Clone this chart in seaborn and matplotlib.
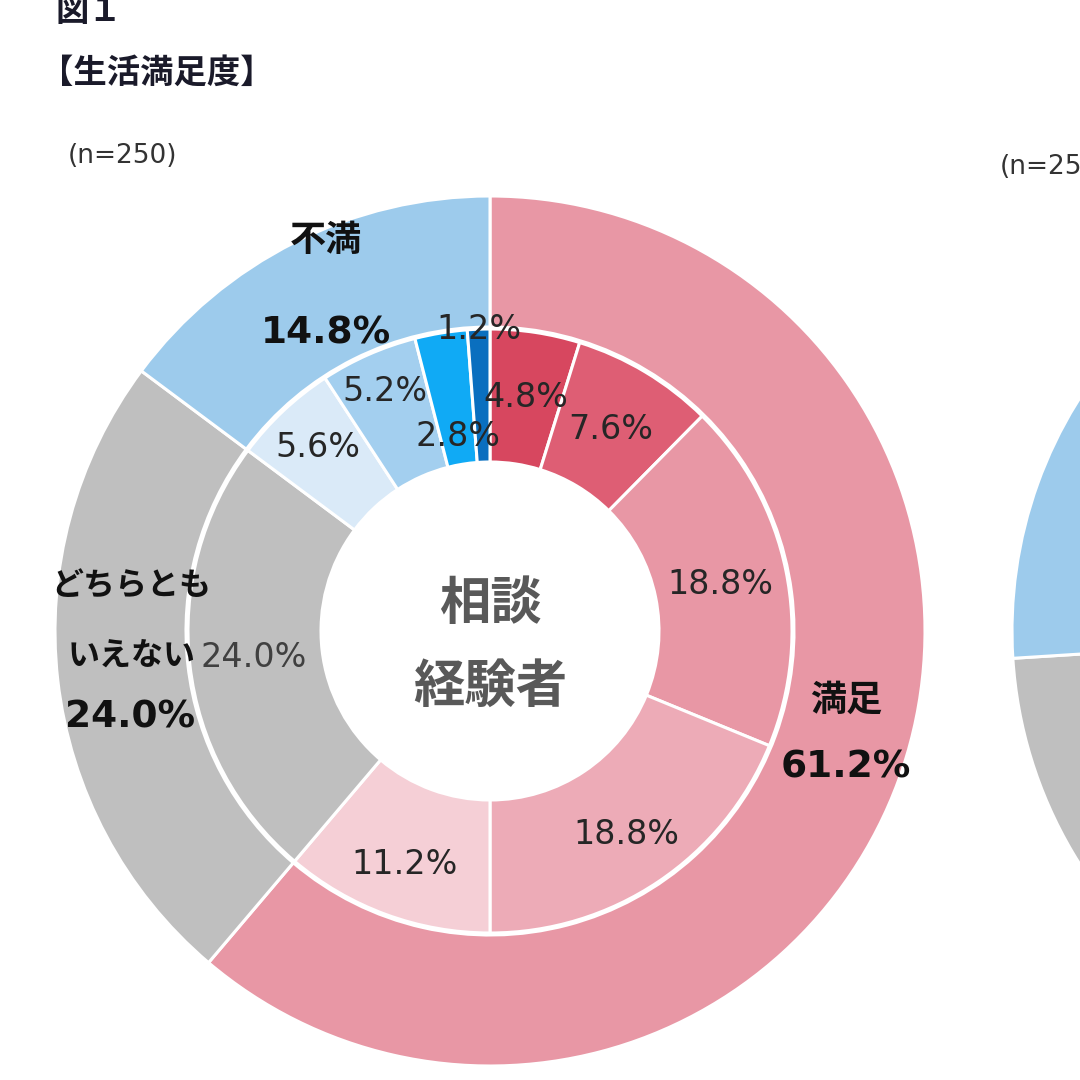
import numpy as np
import matplotlib
matplotlib.use("Agg")
import matplotlib.pyplot as plt
import seaborn as sns

# ---------------- data ----------------
outer_labels = ["満足", "どちらともいえない", "不満"]
outer_values = [61.2, 24.0, 14.8]

inner_values = [4.8, 7.6, 18.8, 18.8, 11.2, 24.0, 5.6, 5.2, 2.8, 1.2]

# second (cut-off) chart on the right edge
outer_values_2 = [44.0, 30.0, 26.0]

title_fig = "図１"
title_main = "【生活満足度】"
n_label = "(n=250)"
center_label = ["相談", "経験者"]

# ---------------- style ----------------
sns.set_theme(style="white")
plt.rcParams["font.family"] = ["Noto Sans CJK JP", "DejaVu Sans"]

outer_colors = ["#E897A5", "#BFBFBF", "#9DCBEC"]
inner_colors = ["#D7475F", "#DE5E74", "#E897A5", "#EDABB7", "#F5CFD6",
                "#BFBFBF", "#DAEAF8", "#A3CFEF", "#10AAF5", "#0A6FBF"]

W = H = 1080
fig = plt.figure(figsize=(10.8, 10.8), dpi=100)
ax = fig.add_axes([0, 0, 1, 1])


def P(x, y):
    return (x, H - y)


cx, cy = P(490, 631)
R_out, R_mid, R_in = 435, 304, 169
wp = dict(edgecolor="white", linewidth=2.2)

w_out, _ = ax.pie(outer_values, colors=outer_colors, radius=R_out, center=(cx, cy),
                  startangle=90, counterclock=False,
                  wedgeprops=dict(width=R_out - R_mid, **wp), frame=True)
w_in, _ = ax.pie(inner_values, colors=inner_colors, radius=R_mid - 2, center=(cx, cy),
                 startangle=90, counterclock=False,
                 wedgeprops=dict(width=R_mid - 2 - R_in, **wp), frame=True)

# second donut (cut off at right edge)
c2x, c2y = P(1447, 631)
ax.pie(outer_values_2, colors=outer_colors, radius=R_out, center=(c2x, c2y),
       startangle=90, counterclock=False,
       wedgeprops=dict(width=R_out - R_mid, **wp), frame=True)

ax.set_xlim(0, W)
ax.set_ylim(0, H)
ax.set_aspect("equal")
ax.axis("off")

# inner ring labels
label_r = [236, 235, 235, 245, 249, 238, 252, 262, 197, 302]
num_font = ["DejaVu Sans", "Noto Sans CJK JP"]
for w, v, r, col in zip(w_in, inner_values, label_r, inner_colors):
    ang = np.deg2rad((w.theta1 + w.theta2) / 2)
    tc = "#404040" if col == "#BFBFBF" else "#262626"
    ax.text(cx + r * np.cos(ang), cy + r * np.sin(ang), f"{v:.1f}%",
            ha="center", va="center", fontsize=24, color=tc, family=num_font)

# outer category labels
jp = ["Noto Sans CJK JP", "DejaVu Sans"]
dark = "#111111"
ax.text(*P(326, 241), "不満", ha="center", va="center", fontsize=26,
        fontweight="bold", color=dark, family=jp)
ax.text(*P(326, 333), f"{outer_values[2]:.1f}%", ha="center", va="center", fontsize=27,
        fontweight="bold", color=dark, family=num_font)

ax.text(*P(131, 586), "どちらとも", ha="center", va="center", fontsize=23,
        fontweight="bold", color=dark, family=jp)
ax.text(*P(132, 656), "いえない", ha="center", va="center", fontsize=23,
        fontweight="bold", color=dark, family=jp)
ax.text(*P(130, 718), f"{outer_values[1]:.1f}%", ha="center", va="center", fontsize=27,
        fontweight="bold", color=dark, family=num_font)

ax.text(*P(846, 700), "満足", ha="center", va="center", fontsize=26,
        fontweight="bold", color=dark, family=jp)
ax.text(*P(846, 767), f"{outer_values[0]:.1f}%", ha="center", va="center", fontsize=27,
        fontweight="bold", color=dark, family=num_font)

# center text
ax.text(*P(490, 603), center_label[0], ha="center", va="center", fontsize=37,
        fontweight="bold", color="#595959", family=jp)
ax.text(*P(490, 686), center_label[1], ha="center", va="center", fontsize=37,
        fontweight="bold", color="#595959", family=jp)

# titles
ax.text(*P(55, 12), title_fig, ha="left", va="center", fontsize=24,
        fontweight="bold", color="#1a1a2a", family=jp)
ax.text(*P(40, 73), title_main, ha="left", va="center", fontsize=24,
        fontweight="bold", color="#1a1a2a", family=jp)
ax.text(*P(68, 156), n_label, ha="left", va="center", fontsize=19,
        color="#333333", family=num_font)
ax.text(*P(1000, 167), n_label, ha="left", va="center", fontsize=19,
        color="#333333", family=num_font)

fig.savefig("out.png", dpi=100, facecolor="white")
